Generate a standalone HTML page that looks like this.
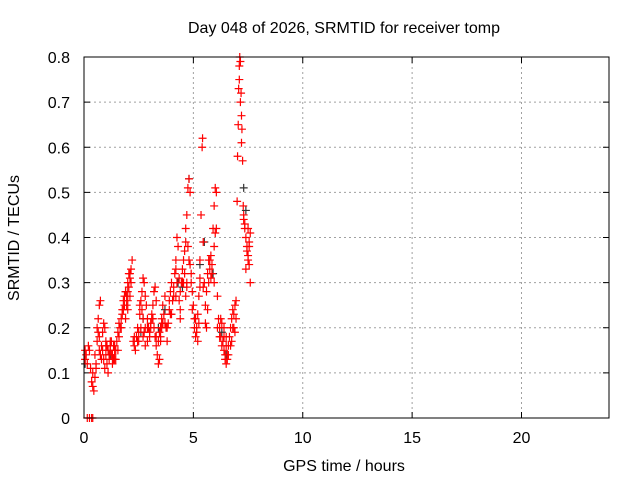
<!DOCTYPE html>
<html><head><meta charset="utf-8"><style>
body{margin:0;background:#fff;width:640px;height:480px;overflow:hidden}
svg text{font-family:"Liberation Sans",sans-serif;font-size:16px;fill:#000}
</style></head><body>
<svg id="chart" width="640" height="480">
<text x="344" y="33" text-anchor="middle" textLength="312">Day 048 of 2026, SRMTID for receiver tomp</text>
<text x="344" y="471" text-anchor="middle">GPS time / hours</text>
<text x="19" y="238" text-anchor="middle" transform="rotate(-90 19 238)">SRMTID / TECUs</text>
<g id="grid"></g><g id="axes"></g><g id="marks"></g>
<rect x="84" y="57" width="525" height="361" fill="none" stroke="#000" stroke-width="1"/>
</svg>
<script>
const xTicks=[0,5,10,15,20];
const yTicks=[0,0.1,0.2,0.3,0.4,0.5,0.6,0.7,0.8];
const yTickLabels=["0","0.1","0.2","0.3","0.4","0.5","0.6","0.7","0.8"];
const redT=[0.05,0.1,0.15,0.05,0.2,0.25,0.3,0.35,0.4,0.45,0.5,0.55,0.4,0.5,0.6,0.65,0.7,0.75,0.6,0.7,0.8,0.85,0.9,0.95,1.0,0.9,0.95,1.0,1.05,1.1,1.15,1.2,1.25,1.3,1.35,1.4,1.45,1.5,1.55,1.6,1.65,1.7,1.75,1.8,1.85,1.9,1.95,2.0,2.05,2.1,2.15,2.2,2.1,2.0,1.9,
2.25,2.3,2.35,2.4,2.45,2.5,2.55,2.6,2.65,2.7,2.75,2.8,2.85,2.9,2.6,2.7,2.8,2.9,3.0,3.05,3.1,3.15,3.2,3.25,3.3,3.35,3.4,3.45,3.2,3.3,3.4,3.5,3.55,3.6,3.65,3.7,3.75,3.8,3.85,3.9,3.95,4.0,4.05,4.1,4.15,4.2,4.25,4.3,4.35,4.4,4.45,4.5,4.55,4.6,4.65,4.7,4.75,4.8,4.85,4.75,4.7,4.65,4.85,4.9,4.95,
5.0,5.05,5.1,5.15,5.2,5.25,5.3,5.35,5.4,5.42,5.45,5.5,5.55,5.6,5.65,5.7,5.75,5.8,5.85,5.9,5.95,6.0,6.05,6.0,5.95,6.1,6.15,6.2,6.25,6.3,6.35,6.4,6.45,6.5,6.55,6.6,6.65,6.7,6.75,6.8,6.85,6.9,6.95,7.0,7.02,7.05,7.07,7.1,7.12,7.15,7.18,7.2,7.22,7.25,7.28,7.3,7.35,7.4,7.45,7.5,7.55,7.6,7.4,7.5,7.55,7.6,
0.15,0.25,0.35,0.4,1.2,1.3,1.1,2.0,2.8,3.6,3.5,4.2,4.4,5.2,5.3,6.4,6.5,6.8,1.4,3.1,
0.55,0.65,0.75,0.85,1.0,1.15,1.25,1.35,1.45,1.55,1.7,1.8,1.95,2.05,2.15,2.3,2.45,2.55,2.65,2.75,2.95,3.05,3.15,3.25,3.45,3.55,3.7,3.8,3.95,4.1,4.25,4.35,4.5,4.6,4.7,4.8,4.95,5.05,5.15,5.25,5.45,5.55,5.65,5.75,5.85,5.95,6.1,6.2,6.3,6.4,6.5,6.6,6.7,6.85,6.95,7.1,7.2,7.3,7.45,7.55,
0.7,0.8,1.05,1.2,1.4,1.6,1.75,1.85,2.0,2.1,2.5,2.7,2.9,3.0,3.3,3.5,3.6,3.9,4.0,4.2,4.4,4.55,4.65,4.9,5.1,5.3,5.6,5.7,5.8,6.05,6.25,6.45,6.55,6.75,6.9,7.15,7.35,7.5];
const redV=[.15,.14,.12,.13,.16,.15,.11,.08,.07,.06,.09,.12,.1,.14,.17,.22,.25,.26,.2,.18,.16,.19,.21,.2,.17,.13,.11,.14,.12,.1,.13,.15,.14,.12,.16,.15,.13,.17,.19,.18,.2,.22,.24,.26,.25,.28,.27,.3,.29,.31,.33,.35,.27,.24,.22,
.17,.16,.15,.18,.17,.19,.23,.26,.28,.31,.3,.27,.25,.22,.2,.18,.16,.2,.19,.21,.23,.25,.28,.29,.26,.14,.12,.13,.2,.18,.17,.2,.22,.25,.23,.27,.2,.17,.21,.24,.28,.3,.26,.29,.32,.35,.4,.38,.31,.28,.3,.33,.35,.37,.42,.45,.51,.53,.5,.38,.3,.27,.34,.32,.28,
.25,.22,.18,.2,.23,.27,.35,.45,.6,.62,.39,.3,.25,.2,.24,.3,.33,.36,.34,.42,.47,.51,.5,.41,.3,.27,.22,.2,.18,.21,.17,.15,.13,.12,.14,.16,.18,.2,.22,.24,.23,.25,.26,.48,.58,.65,.73,.78,.8,.79,.72,.67,.64,.57,.47,.45,.43,.4,.38,.36,.34,.3,.33,.42,.39,.41,
0,0,0,0,.16,.14,.15,.26,.2,.21,.17,.27,.22,.17,.29,.18,.16,.2,.13,.22,
.11,.19,.14,.15,.16,.14,.17,.13,.15,.15,.2,.24,.25,.32,.3,.18,.2,.25,.24,.19,.2,.2,.22,.18,.19,.2,.21,.2,.23,.27,.3,.26,.3,.32,.29,.35,.24,.2,.19,.21,.29,.21,.32,.35,.32,.38,.2,.18,.16,.2,.18,.14,.16,.2,.22,.75,.61,.44,.37,.38,
.15,.13,.16,.17,.16,.21,.23,.27,.28,.32,.17,.22,.17,.18,.16,.18,.21,.26,.23,.33,.24,.3,.39,.3,.22,.31,.28,.35,.31,.42,.22,.14,.13,.17,.19,.7,.42,.35];
const grayT=[4.8,4.5,5.5,5.3,7.3,7.4,6.3,3.4,1.2,0.05,2.6,4.3,6.5,5.9,1.9,2.7,3.7];
const grayV=[.53,.29,.39,.34,.51,.46,.19,.2,.14,.12,.19,.3,.14,.32,.28,.22,.24];
const X0=84,X1=609,Y0=418,Y1=57;
const xs=t=>X0+t/24*(X1-X0);
const ys=v=>Y0-v/0.8*(Y0-Y1);
const NS="http://www.w3.org/2000/svg";
const grid=document.getElementById('grid'),axes=document.getElementById('axes'),marks=document.getElementById('marks');
function mk(tag,attrs,parent){const e=document.createElementNS(NS,tag);for(const k in attrs)e.setAttribute(k,attrs[k]);parent.appendChild(e);return e;}
xTicks.forEach(t=>{
 const x=xs(t);
 if(t>0){const g=mk('line',{x1:x,x2:x,y1:Y1,y2:Y0,stroke:'#a0a0a0','stroke-dasharray':'2,3'},grid);
 
 }
 mk('line',{x1:x,x2:x,y1:Y0,y2:Y0-6,stroke:'#000'},axes);
 mk('line',{x1:x,x2:x,y1:Y1,y2:Y1+6,stroke:'#000'},axes);
 const l=mk('text',{x:x,y:Y0+25,'text-anchor':'middle'},axes);
 l.textContent=String(t);
 
 
});
yTicks.forEach((v,i)=>{
 const y=ys(v);
 if(v>0&&v<0.8){const g=mk('line',{x1:X0,x2:X1,y1:y,y2:y,stroke:'#a0a0a0','stroke-dasharray':'2,3'},grid);
 
 }
 mk('line',{x1:X0,x2:X0+6,y1:y,y2:y,stroke:'#000'},axes);
 mk('line',{x1:X1,x2:X1-6,y1:y,y2:y,stroke:'#000'},axes);
 const l=mk('text',{x:X0-14,y:y+6,'text-anchor':'end'},axes);
 l.textContent=yTickLabels[i];
 
 
});
function plus(t,v,col,name){
 const x=xs(t),y=ys(v);
 const p=mk('path',{d:`M${x-4},${y}H${x+4}M${x},${y-4}V${y+4}`,stroke:col,'stroke-width':1.2,fill:'none'},marks);
 
 
}
grayT.forEach((t,i)=>plus(t,grayV[i],'#333','gray-point'));
redT.forEach((t,i)=>plus(t,redV[i],'#ff0000','red-point'));
</script>
</body></html>
